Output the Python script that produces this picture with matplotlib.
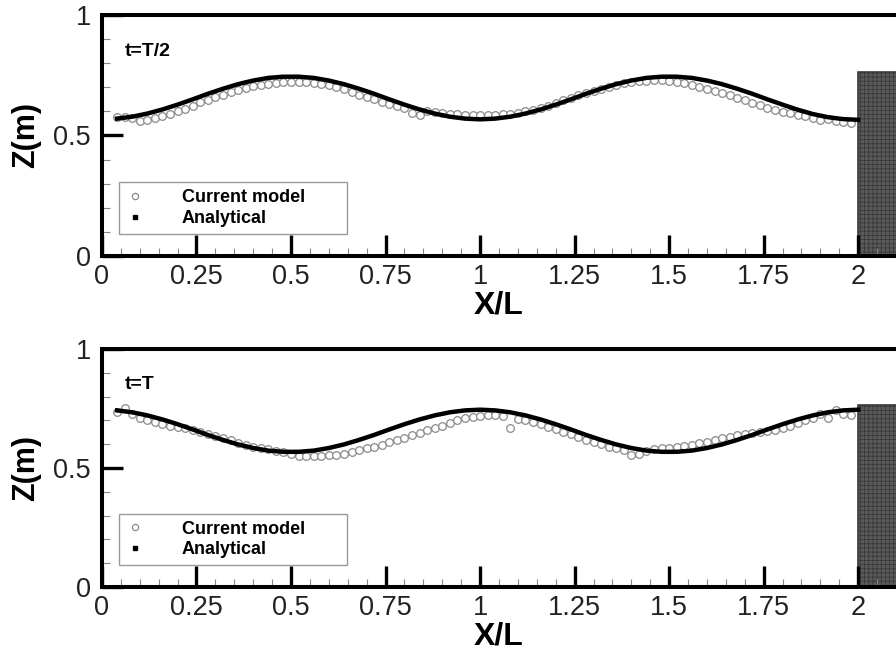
import numpy as np
import matplotlib
matplotlib.use("Agg")
import matplotlib.pyplot as plt
from matplotlib.lines import Line2D
from matplotlib.patches import Rectangle
from matplotlib.ticker import MultipleLocator, FixedLocator

plt.rcParams["font.family"] = ["Liberation Sans", "DejaVu Sans"]
plt.rcParams["hatch.color"] = "#707070"
plt.rcParams["hatch.linewidth"] = 0.6

# free surface elevation along the tank, two instants
x_ana = np.round(np.arange(0.04, 2.001, 0.04), 2)
z_ana_half = [0.570, 0.578, 0.591, 0.608, 0.628, 0.650, 0.673, 0.694, 0.713, 0.728,
              0.739, 0.744, 0.744, 0.739, 0.728, 0.713, 0.694, 0.673, 0.650, 0.628,
              0.608, 0.591, 0.578, 0.570, 0.567, 0.570, 0.578, 0.591, 0.608, 0.628,
              0.650, 0.673, 0.694, 0.713, 0.728, 0.739, 0.744, 0.744, 0.739, 0.728,
              0.713, 0.694, 0.673, 0.650, 0.628, 0.607, 0.589, 0.576, 0.568, 0.565]
z_ana_full = [0.742, 0.734, 0.721, 0.704, 0.684, 0.662, 0.639, 0.618, 0.599, 0.584,
              0.573, 0.568, 0.568, 0.573, 0.584, 0.599, 0.618, 0.639, 0.662, 0.684,
              0.704, 0.721, 0.734, 0.742, 0.745, 0.742, 0.734, 0.721, 0.704, 0.684,
              0.662, 0.639, 0.618, 0.599, 0.584, 0.573, 0.568, 0.568, 0.573, 0.584,
              0.599, 0.618, 0.639, 0.662, 0.684, 0.704, 0.721, 0.734, 0.742, 0.745]

x_num = np.round(np.arange(0.04, 1.981, 0.02), 2)
z_num_half = [0.575, 0.578, 0.572, 0.562, 0.566, 0.572, 0.580, 0.590, 0.600, 0.610,
              0.624, 0.638, 0.648, 0.660, 0.670, 0.680, 0.690, 0.698, 0.704, 0.710,
              0.714, 0.718, 0.721, 0.722, 0.722, 0.720, 0.718, 0.714, 0.708, 0.700,
              0.692, 0.682, 0.670, 0.660, 0.650, 0.640, 0.630, 0.622, 0.612, 0.592,
              0.585, 0.600, 0.596, 0.592, 0.590, 0.588, 0.586, 0.585, 0.584, 0.585,
              0.586, 0.588, 0.590, 0.594, 0.600, 0.606, 0.614, 0.624, 0.636, 0.646,
              0.656, 0.666, 0.676, 0.686, 0.694, 0.702, 0.710, 0.716, 0.721, 0.725,
              0.728, 0.730, 0.730, 0.728, 0.724, 0.718, 0.710, 0.702, 0.694, 0.686,
              0.676, 0.666, 0.656, 0.646, 0.636, 0.626, 0.616, 0.606, 0.598, 0.592,
              0.586, 0.580, 0.574, 0.566, 0.570, 0.562, 0.556, 0.552]
z_num_full = [0.735, 0.752, 0.725, 0.712, 0.703, 0.694, 0.686, 0.678, 0.672, 0.666,
              0.660, 0.652, 0.644, 0.636, 0.626, 0.616, 0.606, 0.598, 0.590, 0.584,
              0.578, 0.572, 0.566, 0.558, 0.552, 0.550, 0.552, 0.550, 0.555, 0.556,
              0.560, 0.566, 0.574, 0.582, 0.590, 0.598, 0.608, 0.618, 0.628, 0.638,
              0.648, 0.658, 0.667, 0.677, 0.688, 0.700, 0.710, 0.716, 0.720, 0.722,
              0.724, 0.720, 0.668, 0.705, 0.700, 0.694, 0.684, 0.672, 0.662, 0.652,
              0.642, 0.632, 0.618, 0.608, 0.600, 0.590, 0.582, 0.576, 0.555, 0.558,
              0.572, 0.578, 0.582, 0.584, 0.588, 0.592, 0.597, 0.604, 0.610, 0.617,
              0.625, 0.632, 0.638, 0.642, 0.646, 0.650, 0.656, 0.660, 0.668, 0.676,
              0.688, 0.700, 0.712, 0.726, 0.710, 0.742, 0.728, 0.722]

# structure at the end of the tank
box_x = 2.0
box_top = 0.765

panels = [
    ("t=T/2", z_num_half, z_ana_half, [0.1138, 0.6092, 0.8862, 0.3679]),
    ("t=T", z_num_full, z_ana_full, [0.1138, 0.1038, 0.8862, 0.3634]),
]

fig = plt.figure(figsize=(8.96, 6.55), dpi=100)

for label, z_num, z_ana, pos in panels:
    ax = fig.add_axes(pos)
    ax.add_patch(Rectangle((box_x, 0), 0.3, box_top, facecolor="#5a5a5a",
                           edgecolor="#3a3a3a", hatch="++++", lw=1.2, zorder=1))
    ax.plot(x_num, z_num, "o", ms=5.5, mfc="white", mec="#8a8a8a", mew=0.9, zorder=2)
    ax.plot(x_ana, z_ana, "-", color="black", lw=3.2, zorder=3)

    ax.set_xlim(0, 2.1)
    ax.set_ylim(0, 1)
    ax.xaxis.set_major_locator(FixedLocator([0, 0.25, 0.5, 0.75, 1, 1.25, 1.5, 1.75, 2]))
    ax.xaxis.set_minor_locator(MultipleLocator(0.05))
    ax.yaxis.set_major_locator(FixedLocator([0, 0.5, 1]))
    ax.yaxis.set_minor_locator(MultipleLocator(0.1))
    ax.set_xticklabels(["0", "0.25", "0.5", "0.75", "1", "1.25", "1.5", "1.75", "2"])
    ax.set_yticklabels(["0", "0.5", "1"])
    ax.tick_params(which="major", direction="in", length=15, width=2.4,
                   labelsize=19.5, pad=6, colors="black", labelcolor="#222222")
    ax.tick_params(which="minor", direction="in", length=6, width=0.8, color="#888888")
    ax.tick_params(axis="y", which="major", pad=8)
    for side in ["left", "bottom", "top"]:
        ax.spines[side].set_linewidth(2.9)
    ax.spines["right"].set_visible(False)

    ax.set_xlabel("X/L", fontsize=23, fontweight="bold", labelpad=0)
    ax.set_ylabel("Z(m)", fontsize=22, fontweight="bold")
    ax.yaxis.set_label_coords(-0.076, 0.5)

    ax.text(0.029, 0.85, label, transform=ax.transAxes, fontsize=14,
            fontweight="bold", va="center")

    # legend frame drawn separately so it can be wider than its entries
    ax.add_patch(Rectangle((0.021, 0.093), 0.287, 0.212, transform=ax.transAxes,
                           facecolor="white", edgecolor="#999999", lw=1.0, zorder=4))
    handles = [
        Line2D([], [], ls="none", marker="o", ms=4.5, mfc="white", mec="#8a8a8a", mew=0.9),
        Line2D([], [], ls="none", marker="s", ms=2.8, color="black"),
    ]
    leg = ax.legend(handles, ["Current model", "Analytical"], loc="lower left",
                    frameon=False, prop={"weight": "bold", "size": 13},
                    handletextpad=2.0, borderpad=0.3, labelspacing=0.2,
                    handlelength=1.2, borderaxespad=0,
                    bbox_to_anchor=(0.021, 0.098), bbox_transform=ax.transAxes)
    leg.set_zorder(5)

fig.savefig("out.png", dpi=100)
